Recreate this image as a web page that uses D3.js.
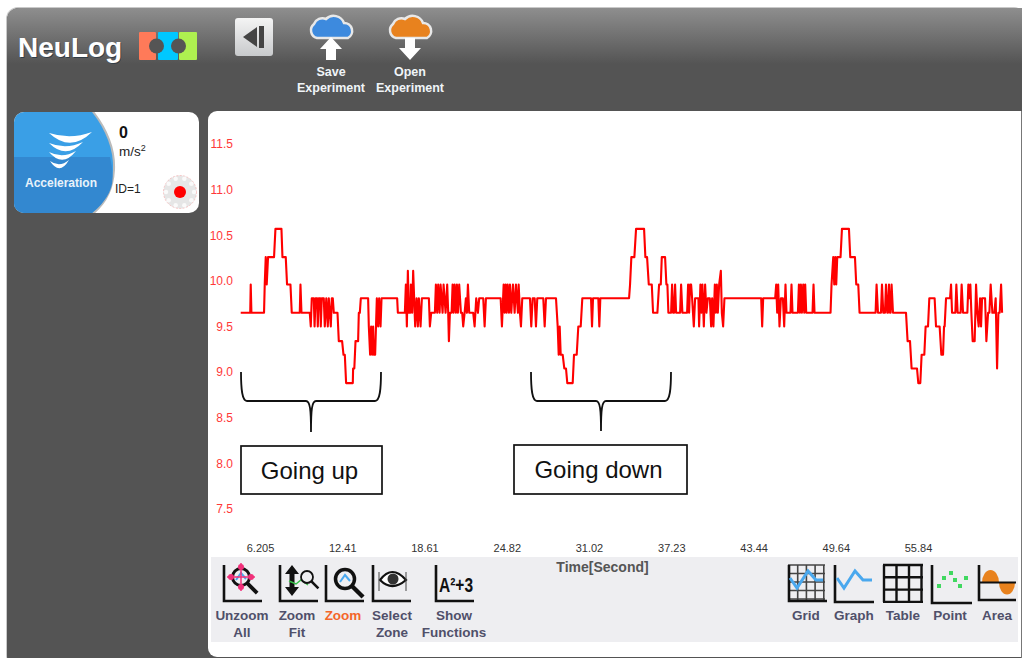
<!DOCTYPE html>
<html>
<head>
<meta charset="utf-8">
<script src="https://cdn.jsdelivr.net/npm/d3@7"></script>
<style>
  html, body { margin: 0; padding: 0; background: #fff; overflow: hidden; }
  text { font-family: "Liberation Sans", Arial, sans-serif; }
</style>
</head>
<body>
<svg id="chart" width="1022" height="658"></svg>
<script>
var yTicks = [7.5, 8.0, 8.5, 9.0, 9.5, 10.0, 10.5, 11.0, 11.5];
var xTicks = [6.205, 12.41, 18.61, 24.82, 31.02, 37.23, 43.44, 49.64, 55.84];
var firstSecond = 4.75;
var sampleTime = 0.0755;

// [sample number, acceleration]
var readings = [
  [0,9.65],[9.5,9.65],[10,9.96],[10.7,9.65],[23.3,9.65],[24,9.96],[25,10.26],[26,9.96],[27.3,10.26],[33.3,10.26],[34.7,10.57],[40.7,10.57],
  [41.7,10.26],[45,10.26],[46.3,9.96],[49.7,9.96],[51,9.65],[59,9.65],[59.7,9.96],[60.7,9.65],[69,9.65],[70,9.5],[71,9.81],[73,9.81],
  [73.8,9.5],[74.8,9.81],[76.3,9.81],[77,9.5],[78,9.81],[79.5,9.81],[80,9.5],[81,9.81],[83,9.81],[84,9.5],[85.5,9.81],[87,9.5],[88,9.81],
  [90,9.5],[91,9.81],[92,9.81],[93,9.65],[96.7,9.65],[98,9.34],[101.3,9.34],[102.7,9.19],[104,9.19],[105.3,8.88],[112,8.88],[112.3,9.04],
  [113.5,9.04],[114.7,9.34],[117.3,9.34],[118,9.65],[119,9.65],[120,9.81],[127.3,9.81],[128,9.5],[129.3,9.19],[130.3,9.5],[131.3,9.19],
  [132.3,9.5],[133,9.19],[134.3,9.19],[136,9.81],[137.3,9.5],[138.3,9.81],[139.7,9.5],[140.7,9.81],[156.3,9.81],[157,9.65],[164,9.65],
  [165,9.96],[166,9.5],[167,10.11],[168,9.65],[169.5,9.65],[170,9.96],[171.3,9.65],[172.3,10.11],
  [174.3,9.5],[175.7,9.81],[177,9.5],[178,9.81],[179.7,9.5],[181,9.81],[188,9.81],[189,9.5],[190.3,9.65],[194,9.65],[195,9.96],[196.3,9.65],
  [197.3,9.96],[198.7,9.65],[199.7,9.96],[201.7,9.65],[202.7,9.96],[204.7,9.65],[206.3,9.96],[207.3,9.65],[208,9.34],[209,9.65],[210.7,9.65],
  [211.7,9.96],[212.7,9.65],[213.7,9.96],[215,9.65],[216,9.96],[217,9.65],[218.3,9.96],[220,9.65],[221.3,9.65],[222.3,9.5],[223.7,9.65],
  [225,9.81],[226,9.65],[227,9.96],[228.3,9.65],[232.3,9.65],[233.7,9.5],[235.3,9.81],[237,9.65],[238.3,9.81],[242.3,9.81],[243.7,9.5],
  [245,9.81],[259.7,9.81],[261,9.5],[262.7,9.96],[263.7,9.65],[264.7,9.96],[265.7,9.65],[266.7,9.96],[268,9.65],[269,9.96],[270.3,9.65],
  [272,9.96],[273.7,9.65],[275,9.96],[277,9.65],[277.7,9.96],[279,9.65],[280,9.5],[281.3,9.81],[289,9.81],[290.3,9.5],[291.7,9.81],[293.7,9.81],
  [295,9.5],[296.3,9.81],[302.3,9.81],[303.7,9.5],[305,9.81],[315,9.81],[316.7,9.5],[317.7,9.19],[318.7,9.5],[319.7,9.19],[321.7,9.19],
  [323.3,9.04],[325,9.04],[326.3,8.88],[331.7,8.88],[333,9.19],[335.7,9.19],[337.3,9.5],[339.7,9.5],[341.3,9.81],[350,9.81],[351,9.5],[352,9.81],
  [357.3,9.81],[358.3,9.5],[359.3,9.81],[388,9.81],[389,9.96],[390.3,10.26],[393.3,10.26],[395,10.57],[403,10.57],[404.3,10.26],[406,10.26],
  [407.7,9.96],[410.7,9.96],[412,9.65],[416.3,9.65],[418,9.96],[419.7,9.96],[420.7,10.26],[424,10.26],[425.3,9.96],[426.3,9.96],[427.3,9.65],
  [430,9.65],[431,9.96],[432,9.65],[433,9.65],[434,9.96],[435,9.65],[439,9.65],[440,9.96],[441.3,9.65],[446,9.65],[447,9.96],[448,9.65],[449,9.96],
  [450,9.96],[451,9.81],[452.7,9.5],[454,9.81],[457.3,9.81],[458,9.5],[459.3,9.96],[460.3,9.65],[461.3,9.96],[462.7,9.5],[464,9.96],[465.3,9.65],
  [466.7,9.81],[468.7,9.81],[470,9.5],[471,9.81],[472.3,9.5],[473.7,9.96],[474.7,9.65],[475.7,9.96],[476.7,9.65],[478,9.96],[479.7,10.11],[480.7,9.65],
  [482,9.5],[483.3,9.81],[520,9.81],[521,9.5],[522,9.81],[534,9.81],[535,9.96],[536,9.65],[537,9.96],[538.3,9.5],[539.7,9.81],[541.7,9.81],[543,9.5],
  [544.3,9.96],[545.3,9.65],[549.3,9.65],[550.3,9.96],[551.3,9.65],[556.7,9.65],[557.7,9.96],[558.7,9.65],[559.7,9.96],[560.7,9.65],[562,9.96],[563,9.65],
  [564,9.96],[565,9.65],[571.3,9.65],[572.3,9.96],[573.3,9.65],[589.3,9.65],[590.3,9.96],[592,10.26],[593,9.96],[594,10.26],[595,9.96],[596,10.26],
  [599.3,10.26],[600.7,10.57],[607.7,10.57],[609,10.26],[613.7,10.26],[615,9.96],[617,9.96],[618.3,9.65],[634.3,9.65],[635.3,9.96],[636.7,9.65],
  [639.7,9.65],[640.7,9.96],[642,9.65],[643.7,9.65],[644.7,9.96],[646,9.65],[646.7,9.65],[647.7,9.96],[648.7,9.65],[649.3,9.65],[650.3,9.96],[651.7,9.65],
  [664.7,9.65],[666.3,9.34],[668.7,9.34],[670.3,9.04],[675.7,9.04],[677,8.88],[679,8.88],[680.3,9.19],[683,9.19],[684.3,9.5],[686.7,9.5],[688,9.81],
  [693.3,9.81],[694.7,9.5],[698.3,9.5],[700,9.19],[701.7,9.19],[702.7,9.5],[703.3,9.5],[704.7,9.81],[708.7,9.81],[709.7,9.96],[710.7,9.65],[714,9.65],
  [715,9.96],[716.3,9.65],[719.3,9.65],[720.3,9.96],[721.7,9.65],[726,9.65],[727,9.96],[728,9.81],[729,9.96],[730,9.65],[731.3,9.34],[733.3,9.34],
  [734.7,9.96],[736,9.65],[737.3,9.5],[738.7,9.81],[739.7,9.5],[740.7,9.81],[743.7,9.81],[745,9.34],[746.7,9.65],[748,9.65],[749.3,9.96],[751,9.65],
  [753,9.65],[754.3,9.81],[755.7,9.04],[757,9.65],[758.3,9.65],[759.7,9.96],[760.7,9.65]
];

var leftTools = [
  { name: 'unzoom', lines: ['Unzoom', 'All'] },
  { name: 'fit', lines: ['Zoom', 'Fit'] },
  { name: 'zoom', lines: ['Zoom'], active: true },
  { name: 'zone', lines: ['Select', 'Zone'] },
  { name: 'functions', lines: ['Show', 'Functions'] }
];
var rightTools = ['Grid', 'Graph', 'Table', 'Point', 'Area'];
var notes = ['Going up', 'Going down'];

var svg = d3.select('#chart');
var defs = svg.append('defs');

var headGrad = defs.append('linearGradient').attr('id', 'head').attr('x2', 0).attr('y2', 1);
headGrad.append('stop').attr('offset', 0).attr('stop-color', '#8e8e8e');
headGrad.append('stop').attr('offset', 1).attr('stop-color', '#545454');
var btnGrad = defs.append('linearGradient').attr('id', 'btn').attr('x2', 0).attr('y2', 1);
btnGrad.append('stop').attr('offset', 0).attr('stop-color', '#f4f4f4');
btnGrad.append('stop').attr('offset', 1).attr('stop-color', '#c8cacc');
defs.append('filter').attr('id', 'soft').append('feGaussianBlur').attr('stdDeviation', 0.4);
defs.append('clipPath').attr('id', 'cardClip').append('rect')
  .attr('x', 14).attr('y', 112).attr('width', 185).attr('height', 101).attr('rx', 10);

// frame
svg.append('rect').attr('x', 6).attr('y', 7).attr('width', 1020).attr('height', 660).attr('rx', 12).attr('fill', '#c9c9c9');
svg.append('rect').attr('x', 7).attr('y', 8).attr('width', 1020).attr('height', 660).attr('rx', 12).attr('fill', '#545454');
svg.append('path').attr('fill', 'url(#head)')
  .attr('d', 'M7,64V20a12,12 0 0 1 12,-12H1022V64Z');

drawHeader();
drawCard();

// plot panel
svg.append('rect').attr('x', 208).attr('y', 111).attr('width', 830).attr('height', 546).attr('rx', 9).attr('fill', '#fff');
svg.append('rect').attr('x', 1021).attr('y', 111).attr('width', 1).attr('height', 547).attr('fill', '#777');
svg.append('rect').attr('x', 211).attr('y', 557).attr('width', 807).attr('height', 85).attr('fill', '#eeeef1');

var x = d3.scaleLinear().domain([xTicks[0], xTicks[8]]).range([260, 918]);
var y = d3.scaleLinear().domain([7.5, 11.5]).range([509, 144]);

var yAxis = d3.axisLeft(y).tickValues(yTicks).tickSize(0).tickPadding(0).tickFormat(d3.format('.1f'));
var xAxis = d3.axisBottom(x).tickValues(xTicks).tickSize(0).tickPadding(0).tickFormat(String);

var yG = svg.append('g').attr('transform', 'translate(233,0)').call(yAxis);
yG.select('.domain').remove();
yG.selectAll('text').attr('fill', '#ff3838').attr('font-size', 12).style('font-family', '"Liberation Sans", Arial, sans-serif');

var xG = svg.append('g').attr('transform', 'translate(0,544)').call(xAxis);
xG.select('.domain').remove();
xG.selectAll('text').attr('fill', '#333').attr('font-size', 11).style('font-family', '"Liberation Sans", Arial, sans-serif');

svg.append('text').attr('x', 602.5).attr('y', 572).attr('text-anchor', 'middle')
  .attr('font-size', 14).attr('font-weight', 'bold').attr('fill', '#555').text('Time[Second]');

var line = d3.line()
  .x(function (d) { return x(firstSecond + d[0] * sampleTime); })
  .y(function (d) { return y(d[1]); });

svg.append('path').datum(readings)
  .attr('d', line)
  .attr('fill', 'none')
  .attr('stroke', '#f00')
  .attr('stroke-width', 2.1)
  .attr('stroke-linejoin', 'round')
  .attr('filter', 'url(#soft)');

drawBrace(241, 381, 372, 401, 432);
drawBrace(531, 671, 372, 401, 431);
drawNote(241, 446, 141, 48, notes[0]);
drawNote(514, 445, 173, 49, notes[1]);

drawToolbar();

function drawBrace(x0, x1, top, mid, tip) {
  var c = (x0 + x1) / 2;
  svg.append('path')
    .attr('d', 'M' + x0 + ',' + top + 'C' + x0 + ',' + (mid - 12) + ' ' + (x0 + 1) + ',' + mid + ' ' + (x0 + 6) + ',' + mid +
      'H' + (c - 5) + 'C' + (c - 1) + ',' + mid + ' ' + c + ',' + (mid + 8) + ' ' + c + ',' + tip +
      'C' + c + ',' + (mid + 8) + ' ' + (c + 1) + ',' + mid + ' ' + (c + 5) + ',' + mid +
      'H' + (x1 - 6) + 'C' + (x1 - 1) + ',' + mid + ' ' + x1 + ',' + (mid - 12) + ' ' + x1 + ',' + top)
    .attr('fill', 'none').attr('stroke', '#111').attr('stroke-width', 1.8);
}

function drawNote(bx, by, w, h, label) {
  svg.append('rect').attr('x', bx).attr('y', by).attr('width', w).attr('height', h)
    .attr('fill', '#fff').attr('stroke', '#111').attr('stroke-width', 1.7);
  svg.append('text').attr('x', bx + w / 2 - 2).attr('y', by + 33).attr('text-anchor', 'middle')
    .attr('font-size', 24).attr('fill', '#111').text(label);
}

function drawHeader() {
  svg.append('text').attr('x', 19).attr('y', 58).attr('font-size', 28).attr('font-weight', 'bold')
    .attr('fill', '#1f2f3f').attr('opacity', 0.7).text('NeuLog');
  svg.append('text').attr('x', 18).attr('y', 57).attr('font-size', 28).attr('font-weight', 'bold')
    .attr('fill', '#fff').text('NeuLog');

  // logo blocks
  svg.append('rect').attr('x', 139).attr('y', 32).attr('width', 17).attr('height', 28).attr('rx', 1).attr('fill', '#ff7a59');
  svg.append('rect').attr('x', 158).attr('y', 32).attr('width', 20).attr('height', 28).attr('rx', 1).attr('fill', '#00c8ff');
  svg.append('rect').attr('x', 179).attr('y', 32).attr('width', 18).attr('height', 28).attr('rx', 1).attr('fill', '#aef050');
  [156.5, 178.5].forEach(function (cx) {
    svg.append('circle').attr('cx', cx).attr('cy', 46).attr('r', 7.5).attr('fill', '#555');
  });

  // collapse button
  svg.append('rect').attr('x', 235).attr('y', 18).attr('width', 38).attr('height', 38).attr('rx', 3).attr('fill', 'url(#btn)');
  svg.append('path').attr('d', 'M243,37L257,27V47Z').attr('fill', '#444');
  svg.append('rect').attr('x', 259).attr('y', 26).attr('width', 5).attr('height', 22).attr('fill', '#444');

  drawCloud(331, '#3d8ade', true);
  drawCloud(410, '#e8821e', false);

  [[331, ['Save', 'Experiment']], [410, ['Open', 'Experiment']]].forEach(function (d) {
    d[1].forEach(function (t, i) {
      svg.append('text').attr('x', d[0]).attr('y', 76 + i * 16).attr('text-anchor', 'middle')
        .attr('font-size', 12.5).attr('font-weight', 'bold').attr('fill', '#f0f4f8').text(t);
    });
  });
}

function drawCloud(cx, color, up) {
  var cloud = 'M' + (cx - 14) + ',38a8,8 0 0 1 -3,-14a9,9 0 0 1 12,-5a11,11 0 0 1 18,4a8,8 0 0 1 4,15Z';
  svg.append('path').attr('d', cloud).attr('fill', color).attr('stroke', '#e8e8e8').attr('stroke-width', 2.5);
  var arrow = up
    ? 'M' + cx + ',37L' + (cx + 11) + ',49H' + (cx + 5) + 'V60H' + (cx - 5) + 'V49H' + (cx - 11) + 'Z'
    : 'M' + (cx - 5) + ',38H' + (cx + 5) + 'V48H' + (cx + 11) + 'L' + cx + ',60L' + (cx - 11) + ',48H' + (cx - 5) + 'Z';
  svg.append('path').attr('d', arrow).attr('fill', '#fff');
}

function drawCard() {
  svg.append('rect').attr('x', 14).attr('y', 112).attr('width', 185).attr('height', 101).attr('rx', 10).attr('fill', '#fff');
  var g = svg.append('g').attr('clip-path', 'url(#cardClip)');
  var shape = 'M14,112H92C106,130 114,150 113,170C112,188 106,202 92,213H14Z';
  g.append('path').attr('d', 'M92,112C106,130 114,150 113,170C112,188 106,202 92,213').attr('fill', 'none').attr('stroke', '#bbb').attr('stroke-width', 4);
  g.append('path').attr('d', shape).attr('fill', '#3a9fe6');
  g.append('path').attr('d', 'M14,157H110C113,170 113,178 112,184C111,190 106,202 92,213H14Z').attr('fill', '#3388d0');

  // tornado
  [[49, 92, 133, 13], [49, 83, 143, 10], [49, 76, 152, 9], [50, 69, 161, 8]].forEach(function (d) {
    var mx = (d[0] + d[1]) / 2;
    svg.append('path')
      .attr('d', 'M' + d[0] + ',' + d[2] + 'Q' + mx + ',' + (d[2] + 7) + ' ' + d[1] + ',' + (d[2] - 1) +
        'Q' + mx + ',' + (d[2] + 7 + d[3]) + ' ' + d[0] + ',' + d[2] + 'Z')
      .attr('fill', '#fff');
  });
  svg.append('text').attr('x', 61).attr('y', 187).attr('text-anchor', 'middle').attr('font-size', 12)
    .attr('font-weight', 'bold').attr('fill', '#e8f2fa').text('Acceleration');

  svg.append('text').attr('x', 119).attr('y', 138).attr('font-size', 16).attr('font-weight', 'bold').attr('fill', '#111').text('0');
  var unit = svg.append('text').attr('x', 119).attr('y', 156).attr('font-size', 13.5).attr('fill', '#222');
  unit.append('tspan').text('m/s');
  unit.append('tspan').attr('dy', -5).attr('font-size', 9).text('2');
  svg.append('text').attr('x', 115).attr('y', 193).attr('font-size', 12).attr('fill', '#222').text('ID=1');

  // status light
  svg.append('circle').attr('cx', 180).attr('cy', 192).attr('r', 16.5).attr('fill', '#e6e6e6')
    .attr('stroke', '#f8b0b0').attr('stroke-width', 0.7).attr('stroke-dasharray', '2 1.5');
  d3.range(10).forEach(function (i) {
    var a = i * Math.PI / 5;
    svg.append('circle').attr('cx', 180 + 14 * Math.cos(a)).attr('cy', 192 + 14 * Math.sin(a)).attr('r', 2.2).attr('fill', '#fafafa');
  });
  svg.append('circle').attr('cx', 180).attr('cy', 192).attr('r', 6).attr('fill', '#f00');
}

function drawToolbar() {
  var lefts = [242, 297, 343, 392, 454];
  leftTools.forEach(function (t, i) {
    t.lines.forEach(function (s, j) {
      svg.append('text').attr('x', lefts[i]).attr('y', 620 + j * 16.5).attr('text-anchor', 'middle')
        .attr('font-size', 13.5).attr('font-weight', 'bold')
        .attr('fill', t.active ? '#f4662a' : '#50506a').text(s);
    });
  });
  var rights = [806, 854, 903, 950, 997];
  rightTools.forEach(function (s, i) {
    svg.append('text').attr('x', rights[i]).attr('y', 620).attr('text-anchor', 'middle')
      .attr('font-size', 13.5).attr('font-weight', 'bold').attr('fill', '#50506a').text(s);
  });

  // toolbar icons
  axesIcon(224, 565, 36);
  ringIcon(241, 577);
  axesIcon(280, 565, 36);
  fitIcon();
  axesIcon(326, 565, 36);
  lensIcon(345, 579, 9.5, 3.5);
  axesIcon(373, 565, 36);
  eyeIcon();
  axesIcon(436, 565, 36);
  svg.append('text').attr('x', 439).attr('y', 592).attr('font-size', 20).attr('font-weight', 'bold').attr('fill', '#111')
    .attr('textLength', 34).attr('lengthAdjust', 'spacingAndGlyphs').text('A\u00b2+3');

  gridIcon();
  axesIcon(835, 565, 37);
  svg.append('path').attr('d', 'M837,578L844,588L855,571L863,580H872').attr('fill', 'none').attr('stroke', '#4aa8ee').attr('stroke-width', 3);
  tableIcon();
  axesIcon(932, 565, 38);
  [[939, 586], [944, 578], [951, 573], [955, 580], [960, 586], [966, 578]].forEach(function (p) {
    svg.append('rect').attr('x', p[0] - 2).attr('y', p[1] - 2).attr('width', 4).attr('height', 4).attr('fill', '#40d860');
  });
  areaIcon();
}

function axesIcon(ax, ay, size) {
  svg.append('path').attr('d', 'M' + ax + ',' + ay + 'V' + (ay + size) + 'H' + (ax + size + 2))
    .attr('fill', 'none').attr('stroke', '#111').attr('stroke-width', 2.6);
}

function lensIcon(cx, cy, r, sw) {
  svg.append('circle').attr('cx', cx).attr('cy', cy).attr('r', r).attr('fill', 'none').attr('stroke', '#111').attr('stroke-width', sw);
  svg.append('line').attr('x1', cx + r * 0.7).attr('y1', cy + r * 0.7).attr('x2', cx + r * 1.9).attr('y2', cy + r * 1.9)
    .attr('stroke', '#111').attr('stroke-width', sw + 0.8);
  if (r > 8) {
    svg.append('path').attr('d', 'M' + (cx - 5) + ',' + (cy + 3) + 'L' + cx + ',' + (cy - 4) + 'L' + (cx + 5) + ',' + (cy + 2))
      .attr('fill', 'none').attr('stroke', '#4aa8ee').attr('stroke-width', 2);
  }
}

function ringIcon(cx, cy) {
  lensIcon(cx, cy, 8.5, 3);
  [[0, -10], [0, 10], [-10, 0], [10, 0]].forEach(function (p) {
    svg.append('circle').attr('cx', cx + p[0]).attr('cy', cy + p[1]).attr('r', 3).attr('fill', '#f0307a');
  });
  svg.append('line').attr('x1', cx - 14).attr('y1', cy).attr('x2', cx + 14).attr('y2', cy).attr('stroke', '#f0307a').attr('stroke-width', 1.5);
  svg.append('line').attr('x1', cx).attr('y1', cy - 14).attr('x2', cx).attr('y2', cy + 14).attr('stroke', '#f0307a').attr('stroke-width', 1.5);
}

function fitIcon() {
  svg.append('path').attr('d', 'M292,565L299,574H294.5V587H299L292,596L285,587H289.5V574H285Z').attr('fill', '#111');
  svg.append('path').attr('d', 'M289,581L296,584L301,580L308,585').attr('fill', 'none').attr('stroke', '#38c048').attr('stroke-width', 1.5);
  lensIcon(307, 577, 6, 1.8);
}

function eyeIcon() {
  svg.append('path').attr('d', 'M380,580Q392,564 406,580Q392,592 380,580Z').attr('fill', '#fff').attr('stroke', '#111').attr('stroke-width', 2.2);
  svg.append('circle').attr('cx', 393).attr('cy', 579).attr('r', 5.5).attr('fill', '#333');
  svg.append('line').attr('x1', 379).attr('y1', 572).attr('x2', 379).attr('y2', 591).attr('stroke', '#444').attr('stroke-width', 1);
  svg.append('line').attr('x1', 406).attr('y1', 572).attr('x2', 406).attr('y2', 591).attr('stroke', '#444').attr('stroke-width', 1);
}

function gridIcon() {
  d3.range(5).forEach(function (i) {
    svg.append('line').attr('x1', 789 + i * 8.7).attr('y1', 565).attr('x2', 789 + i * 8.7).attr('y2', 601).attr('stroke', '#444').attr('stroke-width', 1.6);
    svg.append('line').attr('x1', 788).attr('y1', 565 + i * 8.5).attr('x2', 825).attr('y2', 565 + i * 8.5).attr('stroke', '#444').attr('stroke-width', 1.6);
  });
  axesIcon(789, 565, 36);
  svg.append('path').attr('d', 'M790,578L797,588L808,571L816,580H823').attr('fill', 'none').attr('stroke', '#4aa8ee').attr('stroke-width', 3);
}

function tableIcon() {
  d3.range(4).forEach(function (i) {
    svg.append('line').attr('x1', 884 + i * 12.5).attr('y1', 565).attr('x2', 884 + i * 12.5).attr('y2', 602).attr('stroke', '#111').attr('stroke-width', 2.4);
    svg.append('line').attr('x1', 883).attr('y1', 565 + i * 12.3).attr('x2', 923).attr('y2', 565 + i * 12.3).attr('stroke', '#111').attr('stroke-width', 2.4);
  });
}

function areaIcon() {
  svg.append('path').attr('d', 'M982,582.5A8.5,12.5 0 0 1 999,582.5Z').attr('fill', '#e8821e');
  svg.append('path').attr('d', 'M999,582.5A8,12 0 0 0 1015,582.5Z').attr('fill', '#e8821e');
  svg.append('line').attr('x1', 980).attr('y1', 582.5).attr('x2', 1016).attr('y2', 582.5).attr('stroke', '#111').attr('stroke-width', 1.8);
  axesIcon(979, 565, 35);
}
</script>
</body>
</html>
